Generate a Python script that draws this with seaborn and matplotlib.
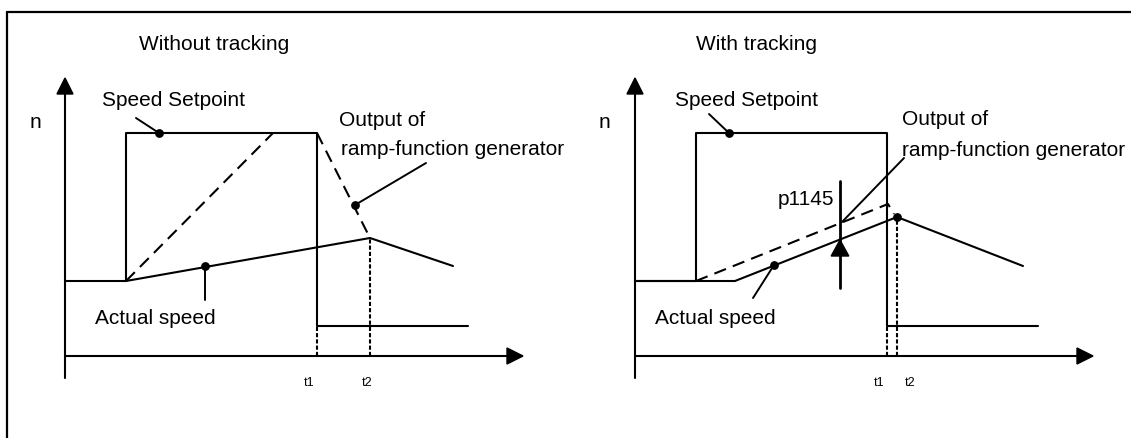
import numpy as np
import pandas as pd
import matplotlib
matplotlib.use("Agg")
import matplotlib.pyplot as plt
import seaborn as sns

# ---------------- data (time units t, speed units n) ----------------
# Left panel: without tracking
L_set_t = [0, 6.1, 6.1, 25.2, 25.2, 40.3]
L_set_n = [7.5, 7.5, 22.3, 22.3, 3.0, 3.0]
L_ramp1_t = [6.1, 20.8]
L_ramp1_n = [7.5, 22.3]
L_ramp2_t = [25.2, 30.5]
L_ramp2_n = [22.3, 11.8]
L_act_t = [6.1, 30.5, 38.8]
L_act_n = [7.5, 11.8, 9.0]
L_t1, L_t2 = 25.2, 30.5
L_t2_n = 11.8

# Right panel: with tracking
R_set_t = [0, 6.1, 6.1, 25.2, 25.2, 40.3]
R_set_n = [7.5, 7.5, 22.3, 22.3, 3.0, 3.0]
R_ramp_t = [6.1, 25.3, 25.9]
R_ramp_n = [7.5, 15.2, 14.2]
R_act_t = [0, 10.0, 26.2, 38.8]
R_act_n = [7.5, 7.5, 13.9, 9.0]
R_t1, R_t2 = 25.2, 26.2
R_t2_n = 13.9
p1145_t = 20.5
p1145_lo, p1145_hi, p1145_tip = 6.8, 17.5, 11.6

tick_labels = ["t1", "t2"]
titles = ["Without tracking", "With tracking"]

# ---------------- style ----------------
sns.set_theme(style="white")
plt.rcParams["font.family"] = ["Liberation Sans", "DejaVu Sans"]
plt.rcParams["text.color"] = "black"
FS = 15
LW = 1.5
C = "black"
DY = -0.2  # small vertical text offset

fig = plt.figure(figsize=(11.31, 4.38), dpi=100)

# frame (top and left edges only visible)
frame = fig.add_axes([0, 0, 1, 1])
frame.set_xlim(0, 1131)
frame.set_ylim(438, 0)
frame.axis("off")
frame.plot([7.3, 1131], [12, 12], color=C, lw=1.6, clip_on=False)
frame.plot([7.3, 7.3], [12, 438], color=C, lw=1.6, clip_on=False)

axL = fig.add_axes([0, 0, 565 / 1131, 1])
axR = fig.add_axes([565 / 1131, 0, 566 / 1131, 1])
axL.set_xlim(-6.5, 50.0)
axR.set_xlim(-7.0, 49.6)
for ax in (axL, axR):
    ax.set_ylim(-8.2, 35.6)
    ax.axis("off")
    ax.patch.set_alpha(0)


def line(ax, t, n, ls="-", lw=LW):
    df = pd.DataFrame({"t": t, "n": n})
    sns.lineplot(data=df, x="t", y="n", ax=ax, sort=False, estimator=None,
                 color=C, lw=lw, linestyle=ls, clip_on=False, legend=False)


def dots(ax, t, n):
    df = pd.DataFrame({"t": t, "n": n})
    sns.scatterplot(data=df, x="t", y="n", ax=ax, color=C, s=40,
                    edgecolor=C, linewidth=0, zorder=5, clip_on=False, legend=False)


def txt(ax, x, y, s, fs=FS, ha="left"):
    ax.text(x, y + DY, s, fontsize=fs, ha=ha, va="center", color=C)


def axes_arrows(ax):
    # y axis
    ax.plot([0, 0], [-2.2, 26.3], color=C, lw=LW, clip_on=False)
    ax.fill([-0.8, 0.8, 0], [26.2, 26.2, 27.8], color=C, clip_on=False)
    # x axis
    ax.plot([0, 44.3], [0, 0], color=C, lw=LW, clip_on=False)
    ax.fill([44.2, 44.2, 45.8], [-0.8, 0.8, 0], color=C, clip_on=False)


DASH = (0, (6, 3.5))
DOT = (0, (2.0, 1.0))
LL = 1.4  # leader line width

# ---------- left panel ----------
ax = axL
axes_arrows(ax)
line(ax, L_set_t, L_set_n)
line(ax, L_ramp1_t, L_ramp1_n, ls=DASH)
line(ax, L_ramp2_t, L_ramp2_n, ls=DASH)
line(ax, L_act_t, L_act_n)
line(ax, [L_t1, L_t1], [0, 3.0], ls=DOT, lw=1.5)
line(ax, [L_t2, L_t2], [0, L_t2_n], ls=DOT, lw=1.5)
# leaders
line(ax, [7.1, 9.4], [23.8, 22.3], lw=LL)
line(ax, [36.1, 29.0], [19.3, 15.1], lw=LL)
line(ax, [14.0, 14.0], [5.6, 9.1], lw=LL)
dots(ax, [9.4, 29.0, 14.0], [22.3, 15.1, 9.0])
txt(ax, 14.95, 31.3, titles[0], ha="center")
txt(ax, -3.0, 23.5, "n", ha="center")
txt(ax, 3.7, 25.7, "Speed Setpoint")
txt(ax, 27.4, 23.7, "Output of")
txt(ax, 27.6, 20.8, "ramp-function generator")
txt(ax, 3.0, 3.9, "Actual speed")
txt(ax, 24.4, -2.5, tick_labels[0], fs=9, ha="center")
txt(ax, 30.2, -2.5, tick_labels[1], fs=9, ha="center")

# ---------- right panel ----------
ax = axR
axes_arrows(ax)
line(ax, R_set_t, R_set_n)
line(ax, R_ramp_t, R_ramp_n, ls=DASH)
line(ax, R_act_t, R_act_n)
line(ax, [R_t1, R_t1], [0, 3.0], ls=DOT, lw=1.5)
line(ax, [R_t2, R_t2], [0, R_t2_n], ls=DOT, lw=1.5)
# p1145 bar with arrow head
line(ax, [p1145_t, p1145_t], [p1145_lo, p1145_hi], lw=2.0)
ax.fill([p1145_t - 0.88, p1145_t + 0.88, p1145_t], [10.0, 10.0, p1145_tip],
        color=C, zorder=6, clip_on=False)
# leaders
line(ax, [7.4, 9.4], [24.2, 22.3], lw=LL)
line(ax, [26.9, 20.7], [19.8, 13.4], lw=LL)
line(ax, [11.8, 13.9], [5.8, 9.1], lw=LL)
dots(ax, [9.4, 13.9, 26.2], [22.3, 9.1, 13.9])
txt(ax, 12.1, 31.3, titles[1], ha="center")
txt(ax, -3.1, 23.5, "n", ha="center")
txt(ax, 4.0, 25.7, "Speed Setpoint")
txt(ax, 26.7, 23.8, "Output of")
txt(ax, 26.7, 20.7, "ramp-function generator")
txt(ax, 14.3, 15.8, "p1145")
txt(ax, 2.0, 3.9, "Actual speed")
txt(ax, 24.4, -2.5, tick_labels[0], fs=9, ha="center")
txt(ax, 27.5, -2.5, tick_labels[1], fs=9, ha="center")

fig.savefig("out.png", dpi=100, facecolor="white")
